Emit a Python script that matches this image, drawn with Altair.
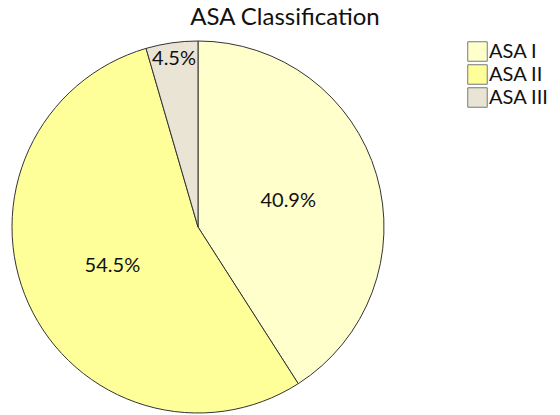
import altair as alt
import pandas as pd
import math

categories = ["ASA I", "ASA II", "ASA III"]
percents = [40.9, 54.5, 4.5]
labels = ["40.9%", "54.5%", "4.5%"]
colors = ["#FFFFCC", "#FFFF99", "#EAE4D4"]

df = pd.DataFrame({
    "category": categories,
    "pct": percents,
    "label": labels,
    "order": list(range(len(categories))),
})

FONT = "Lato"
CX, CY, R = 198, 227, 186

color = alt.Color(
    "category:N",
    scale=alt.Scale(domain=categories, range=colors),
    sort=categories,
    legend=alt.Legend(
        title=None,
        orient="none",
        legendX=467,
        legendY=41,
        symbolType="square",
        symbolSize=380,
        symbolStrokeColor="#777777",
        symbolStrokeWidth=1,
        labelFont=FONT,
        labelFontSize=20,
        labelColor="#111111",
        labelOffset=1,
        rowPadding=-2,
        labelLimit=200,
    ),
)

pie = alt.Chart(df).mark_arc(
    radius=R, stroke="#333333", strokeWidth=1
).encode(
    theta=alt.Theta("pct:Q", stack=True),
    order=alt.Order("order:Q"),
    color=color,
    x=alt.value(CX),
    y=alt.value(CY),
)

text = alt.Chart(df).transform_window(
    cum="sum(pct)", sort=[alt.SortField("order")]
).transform_joinaggregate(
    total="sum(pct)"
).transform_calculate(
    mid=f"2*{math.pi}*(datum.cum - datum.pct/2)/datum.total",
    lr="datum.pct < 10 ? 170 : 94",
).mark_text(
    font=FONT, fontSize=20, color="#111111"
).encode(
    text="label:N",
    theta=alt.Theta("mid:Q", scale=None),
    radius=alt.Radius("lr:Q", scale=None),
    x=alt.value(CX),
    y=alt.value(CY),
)

chart = alt.layer(pie, text).properties(
    width=560,
    height=415,
    autosize=alt.AutoSizeParams(type="none"),
    padding=0,
    title=alt.Title(
        "ASA Classification",
        font=FONT,
        fontSize=24,
        fontWeight="normal",
        color="#111111",
        anchor="middle",
        dx=5,
        offset=-30,
    ),
).configure_view(stroke=None)

chart.save("out.html", embed_options={"renderer": "svg", "actions": False})
